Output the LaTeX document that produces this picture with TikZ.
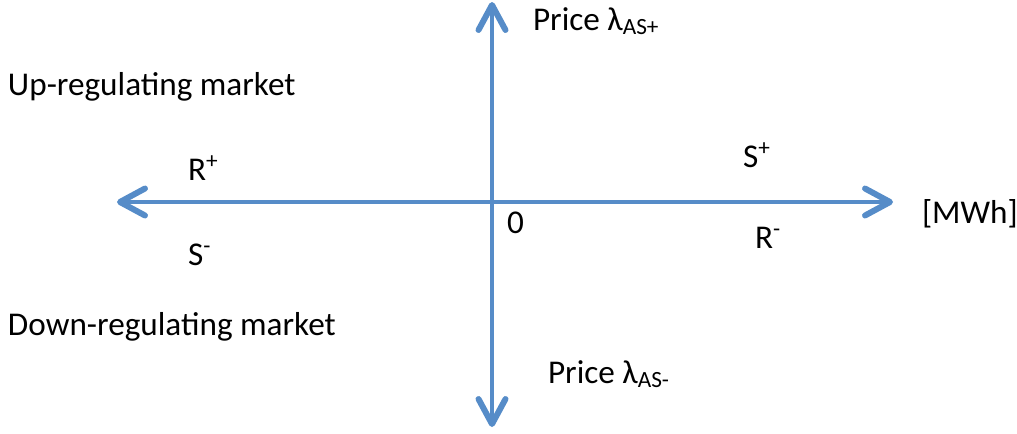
\documentclass[tikz,border=0pt]{standalone}
\usepackage{fontspec}
\setmainfont{Carlito}
\usetikzlibrary{arrows.meta}
\definecolor{axisblue}{RGB}{86,140,200}
\tikzset{
  barbtip/.tip={Straight Barb[length=0.5cm, width=0.54cm, line width=3.4pt, round]},
  axisarrow/.style={barbtip-barbtip, line width=2pt, color=axisblue},
  lbl/.style={
    anchor=base west, inner sep=0pt, outer sep=0pt,
    font=\fontsize{18.9}{22}\selectfont, text=black
  },
}

\begin{document}
\begin{tikzpicture}[x=0.02cm, y=-0.02cm]
  \useasboundingbox (0,0) rectangle (1017,433);

  % axes
  \coordinate (west)  at (117,202);
  \coordinate (east)  at (893,202);
  \coordinate (north) at (492,2);
  \coordinate (south) at (492,427);

  \draw[axisarrow] (west) -- (east);
  \draw[axisarrow] (south) -- (north);

  % labels
  \node[lbl] (priceup) at (533,30)  {Price λ\textsubscript{AS+}};
  \node[lbl] (pricedn) at (548,383) {Price λ\textsubscript{AS-}};
  \node[lbl] (unit)    at (922,223) {[MWh]};
  \node[lbl] (zero)    at (507,233) {0};

  \node[lbl] (upmkt)   at (8,95)    {Up-regulating market};
  \node[lbl] (dnmkt)   at (8,335)   {Down-regulating market};

  \node[lbl] (rplus)   at (188,180) {R\textsuperscript{+}};
  \node[lbl] (sminus)  at (188,265) {S\textsuperscript{-}};
  \node[lbl] (splus)   at (743,167) {S\textsuperscript{+}};
  \node[lbl] (rminus)  at (755,248) {R\textsuperscript{-}};
\end{tikzpicture}
\end{document}
